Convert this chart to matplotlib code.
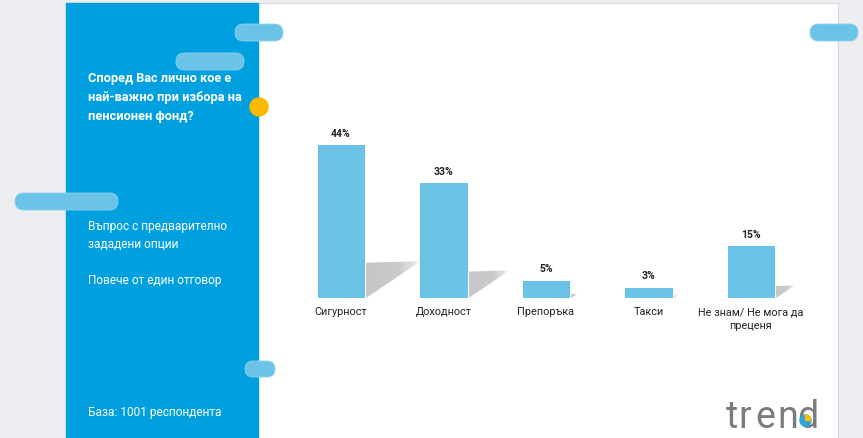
import numpy as np
import matplotlib
matplotlib.use("Agg")
import matplotlib.pyplot as plt
from matplotlib.patches import Rectangle, FancyBboxPatch, Circle, Wedge, Polygon
from matplotlib.colors import LinearSegmentedColormap

plt.rcParams['font.family'] = ['Roboto', 'DejaVu Sans']

# data
categories = ['Сигурност', 'Доходност', 'Препоръка', 'Такси', 'Не знам/ Не мога да\nпреценя']
values = [44, 33, 5, 3, 15]
value_labels = ['44%', '33%', '5%', '3%', '15%']

title = 'Според Вас лично кое е\nнай-важно при избора на\nпенсионен фонд?'
note1 = 'Въпрос с предварително\nзададени опции'
note2 = 'Повече от един отговор'
base = 'База: 1001 респондента'

W, H = 863, 438
fig = plt.figure(figsize=(W / 100, H / 100), dpi=100)

# background in pixel coords
bg = fig.add_axes([0, 0, 1, 1])
bg.set_xlim(0, W)
bg.set_ylim(H, 0)
bg.axis('off')
bg.add_patch(Rectangle((0, 0), W, H, color='#eceef1', zorder=0))
bg.add_patch(Rectangle((66, 3), 772, H, facecolor='white', edgecolor='#d8dadd', lw=0.8, zorder=1))
bg.add_patch(Rectangle((66, 3), 192, H, color='#009fdf', zorder=2))

pill_col = '#6cc3e8'
for px, py, pw, ph in [(235, 24, 48, 17), (176, 53, 68, 17), (15, 193, 103, 17),
                       (245, 361, 30, 16), (810, 24, 48, 17)]:
    bg.add_patch(FancyBboxPatch((px, py), pw, ph, boxstyle='round,pad=0,rounding_size=%.1f' % (ph / 2),
                                facecolor=pill_col, edgecolor='#8fd2ee', lw=0.6, zorder=3))
bg.add_patch(Circle((259, 107), 9, color='#fbb900', zorder=3))

bg.text(88, 72, title, color='white', fontsize=9.2, fontweight='bold', va='top',
        linespacing=1.6, zorder=4)
bg.text(88, 220, note1, color='white', fontsize=8.6, va='top', linespacing=1.55, zorder=4)
bg.text(88, 274, note2, color='white', fontsize=8.6, va='top', zorder=4)
bg.text(88, 406, base, color='white', fontsize=8.6, va='top', zorder=4)

# logo, letters spaced out like the brand mark
logo = []
for ch, lx in zip('trend', [726, 738, 755, 777, 797]):
    logo.append(bg.text(lx, 428, ch, color='#7b7b7d', fontsize=27, va='baseline', zorder=4))

# bar chart axes
ax = fig.add_axes([290 / W, (H - 298) / H, 512 / W, 168 / H])
ax.set_facecolor('none')
x = np.arange(len(values))
bw = 0.45
bars = ax.bar(x, values, width=bw, color='#6cc3e8', edgecolor='#5ab8e2', lw=0.6, zorder=3)

# soft shadows behind bars
shade = LinearSegmentedColormap.from_list(
    'shade', [(0, '#c6c6c6'), (0.6, '#cbcbcb'), (0.85, '#e2e2e2'), (1, '#ffffff')])
grad = np.linspace(0, 1, 256).reshape(1, -1)
for b, v in zip(bars, values):
    xr = b.get_x() + b.get_width() + 0.02
    hs = 0.23 * v
    ws = 1.24 * v / 102.5
    tri = Polygon([(xr, 0), (xr, hs), (xr + ws, hs * 1.05)], closed=True,
                  facecolor='none', edgecolor='none')
    ax.add_patch(tri)
    im = ax.imshow(grad, extent=(xr, xr + ws, 0, hs * 1.05), cmap=shade,
                   aspect='auto', zorder=2, interpolation='bilinear')
    im.set_clip_path(tri)

for xi, v, lab in zip(x, values, value_labels):
    ax.text(xi, v + 1.8, lab, ha='center', va='bottom', fontsize=7.5, fontweight='bold', color='#222222')
for xi, c in zip(x, categories):
    ax.text(xi, -2.6, c, ha='center', va='top', fontsize=7.8, color='#222222', linespacing=1.5)

ax.set_xlim(-0.4976, 4.4976)
ax.set_ylim(0, 48.3)
ax.axis('off')

# put the little pie inside the bowl of the "d"
fig.canvas.draw()
bb = logo[-1].get_window_extent().transformed(bg.transData.inverted())
cx = bb.x0 + 0.40 * (bb.x1 - bb.x0)
cy = 428 - 7.5
bg.add_patch(Circle((cx, cy), 5.5, color='#29a8e0', zorder=5))
bg.add_patch(Wedge((cx, cy), 5.5, 270, 360, color='#fbb900', zorder=6))

fig.savefig('out.png', dpi=100)
